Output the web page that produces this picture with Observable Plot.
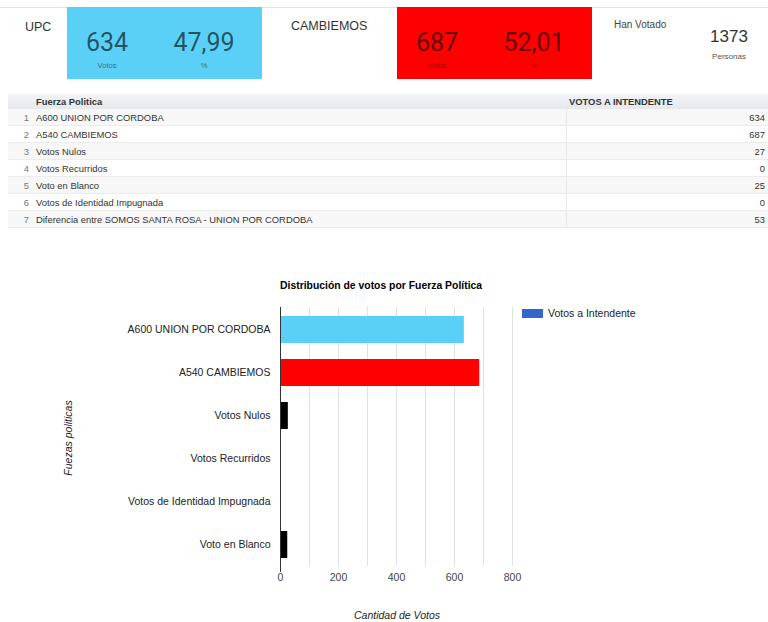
<!DOCTYPE html>
<html><head><meta charset="utf-8">
<script src="https://cdn.jsdelivr.net/npm/d3@7"></script>
<script src="https://cdn.jsdelivr.net/npm/@observablehq/plot@0.6"></script>
<style>
body{margin:0;width:768px;height:622px;position:relative;background:#fff;font-family:"Liberation Sans",Arial,sans-serif;color:#222;overflow:hidden}
.abs{position:absolute;white-space:nowrap}
.topline{position:absolute;left:0;top:7px;width:768px;height:1px;background:#e2e2e2}
.box{position:absolute;top:7px;height:72px;width:195px}
.big{position:absolute;font-family:Roboto,"Liberation Sans",sans-serif;font-size:25px;color:rgba(0,0,0,0.62);transform:translateX(-50%);top:21px}
.small{position:absolute;font-size:7.5px;color:rgba(0,0,0,0.5);transform:translateX(-50%);top:54px}
table{position:absolute;left:8px;top:94px;width:760px;border-collapse:collapse;font-size:9.4px;color:#333}
th{background:linear-gradient(#f3f4f7,#e6e8ec);height:15px;text-align:left;font-weight:bold;padding:0 0 0 3px}
td{height:16px;border-bottom:1px solid #ececec;padding:0 3px}
tr:nth-child(even) td{background:#f7f7f7}
td.n{color:#777;text-align:right;width:18px;padding-right:4px}
td.v{text-align:right;border-left:1px solid #e8e8e8}
</style></head>
<body>
<div id="root"></div>
<script>
// ---- data ----
const upcName = "UPC";
const upcVotes = 634;
const upcPct = "47,99";
const cambName = "CAMBIEMOS";
const cambVotes = 687;
const cambPct = "52,01";
const totalVoters = 1373;

const tableLabels = ["A600 UNION POR CORDOBA","A540 CAMBIEMOS","Votos Nulos","Votos Recurridos","Voto en Blanco","Votos de Identidad Impugnada","Diferencia entre SOMOS SANTA ROSA - UNION POR CORDOBA"];
const tableValues = [634,687,27,0,25,0,53];

const categories = ["A600 UNION POR CORDOBA","A540 CAMBIEMOS","Votos Nulos","Votos Recurridos","Votos de Identidad Impugnada","Voto en Blanco"];
const votes = [634,687,27,0,0,25];
const xTicks = [0,200,400,600,800];
const gridTicks = [100,200,300,400,500,600,700,800];

// ---- styles (kept apart from data) ----
const barColors = ["#5bd0f7","#ff0000","#000000","#000000","#000000","#000000"];

const root = document.getElementById("root");
root.innerHTML = `
<div class="topline"></div>
<div class="abs" style="left:25px;top:20px;font-size:12.5px;color:#333">${upcName}</div>
<div class="box" style="left:67px;background:#5bd0f7">
  <div class="big" style="left:40px">${upcVotes}</div>
  <div class="big" style="left:137px">${upcPct}</div>
  <div class="small" style="left:40px">Votos</div>
  <div class="small" style="left:137px">%</div>
</div>
<div class="abs" style="left:291px;top:19px;font-size:12.5px;color:#333">${cambName}</div>
<div class="box" style="left:397px;background:#ff0000">
  <div class="big" style="left:40px">${cambVotes}</div>
  <div class="big" style="left:137px">${cambPct}</div>
  <div class="small" style="left:40px">Votos</div>
  <div class="small" style="left:137px">%</div>
</div>
<div class="abs" style="left:614px;top:19px;font-size:10px;color:#444">Han Votado</div>
<div class="abs" style="left:729px;top:27px;font-size:17px;color:#333;transform:translateX(-50%)">${totalVoters}</div>
<div class="abs" style="left:729px;top:52px;font-size:8px;color:#555;transform:translateX(-50%)">Personas</div>
<table>
<tr><th style="width:22px;padding:0"></th><th>Fuerza Politica</th><th style="width:199px">VOTOS A INTENDENTE</th></tr>
${tableLabels.map((l,i)=>`<tr><td class="n">${i+1}</td><td>${l}</td><td class="v">${tableValues[i]}</td></tr>`).join("")}
</table>
<div class="abs" style="left:280px;top:280px;font-size:10.4px;font-weight:bold;color:#000">Distribución de votos por Fuerza Política</div>
<div class="abs" style="left:522px;top:309px;width:21px;height:9px;background:#3366cc"></div>
<div class="abs" style="left:548px;top:307px;font-size:10.5px;color:#222">Votos a Intendente</div>
<div class="abs" style="left:68px;top:438px;font-size:10.5px;font-style:italic;color:#222;transform:translate(-50%,-50%) rotate(-90deg)">Fuezas politicas</div>
<div class="abs" style="left:397px;top:609px;font-size:10.5px;font-style:italic;color:#222;transform:translateX(-50%)">Cantidad de Votos</div>
<div id="chart" class="abs" style="left:0;top:270px"></div>
`;

const data = categories.map((c,i)=>({category:c, value:votes[i]}));

const chart = Plot.plot({
  width: 768, height: 352,
  marginLeft: 280, marginRight: 256, marginTop: 37, marginBottom: 56,
  x: {domain: [0, 800], label: null},
  y: {domain: categories, paddingInner: 0.375, paddingOuter: 0.1875, label: null},
  color: {domain: categories, range: barColors},
  style: {fontFamily: '"Liberation Sans", Arial, sans-serif', fontSize: "10.5px", color: "#222", background: "transparent"},
  marks: [
    Plot.gridX(gridTicks, {stroke: "#e0e0e0", strokeOpacity: 1}),
    Plot.barX(data, {x: "value", y: "category", fill: "category"}),
    Plot.ruleX([0], {stroke: "#333", insetBottom: -6}),
    Plot.axisX(xTicks, {tickSize: 0, tickPadding: 7, label: null, fill: "#444"}),
    Plot.axisY({tickSize: 0, tickPadding: 10, label: null, fill: "#222"})
  ]
});
document.getElementById("chart").appendChild(chart);
</script>
</body></html>
